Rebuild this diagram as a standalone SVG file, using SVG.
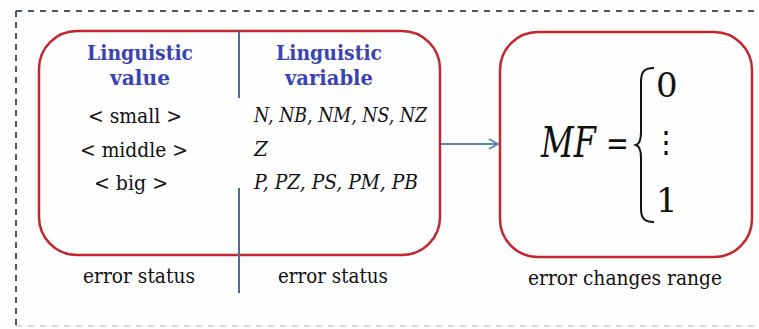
<svg xmlns="http://www.w3.org/2000/svg" width="759" height="329" viewBox="0 0 759 329">
<defs>
<style>
.frame{fill:none;stroke:#4b5663;stroke-width:2;stroke-dasharray:6 6}
.box{fill:none;stroke:#c3262f;stroke-width:2.5}
.div{stroke:#4a6b97;stroke-width:2;fill:none}
text{font-family:'DejaVu Serif','Liberation Serif',serif}
.title{font-weight:bold;font-size:21px;fill:#3b43b3;text-anchor:middle}
.t{font-size:21px;fill:#111;text-anchor:middle}
.it{font-style:italic;font-size:20px;fill:#111}
.lbl{font-size:21px;fill:#111;text-anchor:middle}
.math{fill:#111}
</style>
<marker id="arr" viewBox="0 0 12 12" refX="11" refY="6" markerWidth="12" markerHeight="12" markerUnits="userSpaceOnUse" orient="auto">
<polyline points="2,1 11,6 2,11" fill="none" stroke="#5a84b3" stroke-width="2"/>
</marker>
</defs>
<rect width="759" height="329" fill="#fefefe"/>
<g id="frame">
<line class="frame" x1="16" y1="11" x2="759" y2="11"/>
<line class="frame" x1="16" y1="11" x2="16" y2="329" style="stroke-dasharray:6 5"/>
<line class="frame" x1="16" y1="326" x2="759" y2="326" style="stroke:#c9ced4;stroke-width:1.5"/>
</g>
<g id="linguistic-box">
<rect class="box" x="39" y="31" width="401" height="224" rx="38" ry="38"/>
<line class="div" x1="239" y1="31" x2="239" y2="98"/>
<line class="div" x1="239" y1="188" x2="239" y2="293"/>
<text class="title" x="140" y="60" textLength="106" lengthAdjust="spacingAndGlyphs">Linguistic</text>
<text class="title" x="140" y="85" textLength="60" lengthAdjust="spacingAndGlyphs">value</text>
<text class="title" x="329" y="60" textLength="106" lengthAdjust="spacingAndGlyphs">Linguistic</text>
<text class="title" x="329" y="85" textLength="88" lengthAdjust="spacingAndGlyphs">variable</text>
<text class="t" x="135" y="123" textLength="94" lengthAdjust="spacingAndGlyphs">&lt; small &gt;</text>
<text class="t" x="134" y="157" textLength="108" lengthAdjust="spacingAndGlyphs">&lt; middle &gt;</text>
<text class="t" x="131" y="190" textLength="74" lengthAdjust="spacingAndGlyphs">&lt; big &gt;</text>
<text class="it" x="254" y="122" textLength="173" lengthAdjust="spacingAndGlyphs">N, NB, NM, NS, NZ</text>
<text class="it" x="254" y="156">Z</text>
<text class="it" x="254" y="189" textLength="164" lengthAdjust="spacingAndGlyphs">P, PZ, PS, PM, PB</text>
<text class="lbl" x="139" y="283" textLength="112" lengthAdjust="spacingAndGlyphs">error status</text>
<text class="lbl" x="333" y="283" textLength="110" lengthAdjust="spacingAndGlyphs">error status</text>
</g>
<g id="connectors">
<line x1="441" y1="144" x2="498" y2="144" stroke="#5a84b3" stroke-width="2" marker-end="url(#arr)"/>
</g>
<g id="mf-box">
<rect class="box" x="500" y="32" width="252" height="225" rx="38" ry="38"/>
<text class="math" transform="translate(541,157) scale(0.76,1)" font-size="42" font-style="italic">MF</text>
<text class="math" transform="translate(606,155) scale(0.8,1)" font-size="34">=</text>
<path d="M654,68 C643,68 641,73 641,82 L641,132 C641,140 639,144 636,145 C639,146 641,150 641,158 L641,208 C641,217 643,222 654,222" fill="none" stroke="#111" stroke-width="2"/>
<text class="math" x="656" y="97" font-size="34">0</text>
<text class="math" x="666" y="152" font-size="30" text-anchor="middle">⋮</text>
<text class="math" x="656" y="212" font-size="34">1</text>
<text class="lbl" x="625" y="285" textLength="194" lengthAdjust="spacingAndGlyphs">error changes range</text>
</g>
</svg>
